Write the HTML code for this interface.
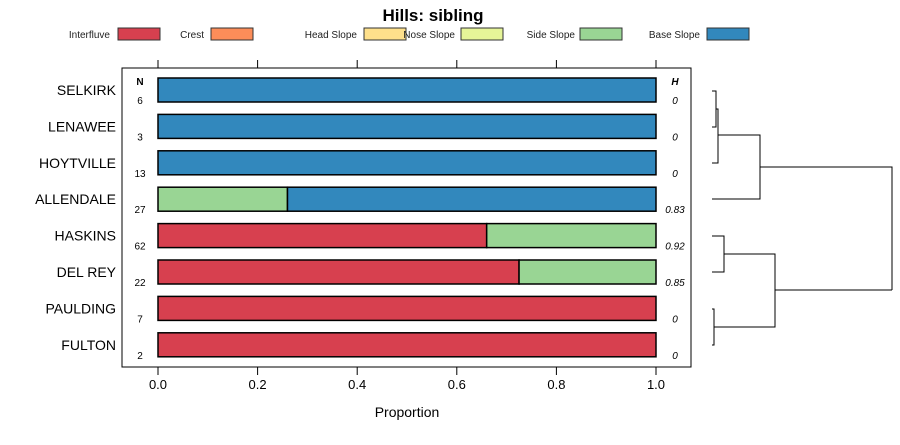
<!DOCTYPE html>
<html><head><meta charset="utf-8"><style>
body{margin:0;background:#fff}
svg text{font-family:"Liberation Sans",sans-serif}
</style></head><body>
<svg id="c" width="900" height="440" xmlns="http://www.w3.org/2000/svg">
<text x="433" y="21" font-size="17" font-weight="bold" text-anchor="middle">Hills: sibling</text>
<g id="legend"></g>
<rect x="122" y="68" width="569" height="299" fill="none" stroke="#000" stroke-width="1"/>
<g id="plot"></g>
<text x="407" y="417" font-size="14" text-anchor="middle">Proportion</text>
<text x="140" y="85" font-size="10" font-weight="bold" text-anchor="middle">N</text>
<text x="675" y="85" font-size="10" font-weight="bold" font-style="italic" text-anchor="middle">H</text>
<g id="dendro" stroke="#000" stroke-width="1" fill="none"></g>
</svg>
<script>
const categories=["SELKIRK","LENAWEE","HOYTVILLE","ALLENDALE","HASKINS","DEL REY","PAULDING","FULTON"];
const nValues=[6,3,13,27,62,22,7,2];
const hValues=["0","0","0","0.83","0.92","0.85","0","0"];
const seriesNames=["Interfluve","Crest","Head Slope","Nose Slope","Side Slope","Base Slope"];
const seriesColors=["#d7404f","#fc8d59","#fee08b","#e6f598","#99d594","#3288bd"];
const interfluve=[0,0,0,0,0.66,0.725,1,1];
const crest=[0,0,0,0,0,0,0,0];
const headSlope=[0,0,0,0,0,0,0,0];
const noseSlope=[0,0,0,0,0,0,0,0];
const sideSlope=[0,0,0,0.26,0.34,0.275,0,0];
const baseSlope=[1,1,1,0.74,0,0,0,0];
const xTicks=[0,0.2,0.4,0.6,0.8,1.0];
const xTickLabels=["0.0","0.2","0.4","0.6","0.8","1.0"];
const series=[interfluve,crest,headSlope,noseSlope,sideSlope,baseSlope];
const NS="http://www.w3.org/2000/svg";
const X=v=>158+v*498;
const Y=i=>90+i*36.4;
function mk(tag,attrs,parent,text){const e=document.createElementNS(NS,tag);for(const k in attrs)e.setAttribute(k,attrs[k]);if(text!==undefined)e.textContent=text;parent.appendChild(e);return e;}
const plot=document.getElementById('plot');
const leg=document.getElementById('legend');
const legX=[[110,118],[204,211],[357,364],[455,461],[575,580],[700,707]];
seriesNames.forEach((n,i)=>{
 const t=mk('text',{x:legX[i][0],y:38,'font-size':10,'text-anchor':'end',fill:'#222'},leg,n);
 
 
 const r=mk('rect',{x:legX[i][1],y:28,width:42,height:12,fill:seriesColors[i],stroke:'#333'},leg);
 
 
});
xTicks.forEach((v,i)=>{
 const a=mk('line',{x1:X(v),x2:X(v),y1:60,y2:68,stroke:'#000'},plot);
 
 
 const b=mk('line',{x1:X(v),x2:X(v),y1:367,y2:375,stroke:'#000'},plot);
 
 
 const t=mk('text',{x:X(v),y:389,'font-size':13,'text-anchor':'middle'},plot,xTickLabels[i]);
 
 
});
categories.forEach((c,i)=>{
 const y=Y(i);
 const l=mk('text',{x:116,y:y+5,'font-size':14,'text-anchor':'end'},plot,c);
 
 
 const n=mk('text',{x:140,y:y+14,'font-size':10,'text-anchor':'middle'},plot,nValues[i]);
 
 
 const h=mk('text',{x:675,y:y+14,'font-size':10,'font-style':'italic','text-anchor':'middle'},plot,hValues[i]);
 
 
 let cum=0;
 series.forEach((s,k)=>{
  const v=s[i]; if(v<=0) return;
  const r=mk('rect',{x:X(cum),y:y-12,width:X(cum+v)-X(cum),height:24,fill:seriesColors[k],stroke:'#000','stroke-width':1.5},plot);
  
  
  cum+=v;
 });
});
const d=document.getElementById('dendro');
const segs=[
"M712 91H716V127H712","M716 109H718V163H712","M718 135H760V199H712","M760 167H892V290",
"M712 236H724V272H712","M724 254H775V327H714","M712 309H714V345H712","M775 290H892"];
segs.forEach(p=>{const e=mk('path',{d:p},d);
 
 });
</script>
</body></html>
